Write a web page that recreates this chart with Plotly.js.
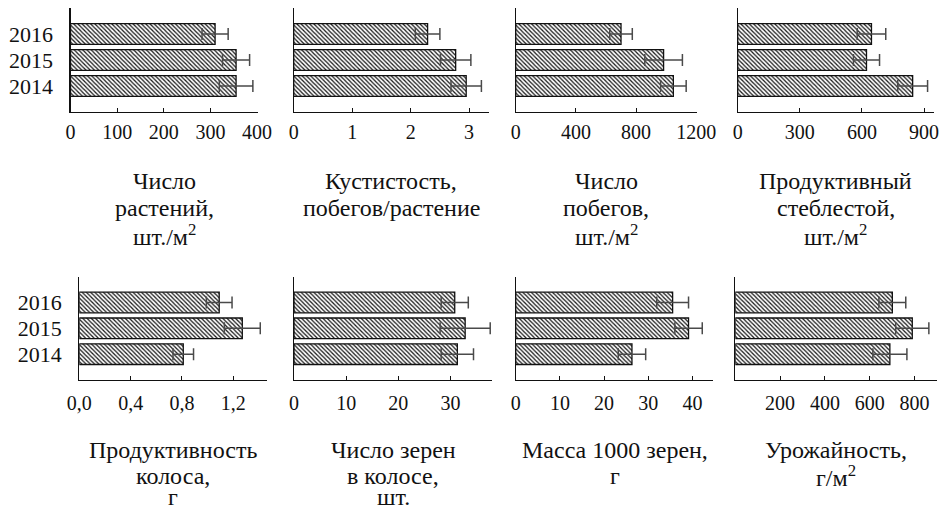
<!DOCTYPE html>
<html><head><meta charset="utf-8">
<script src="https://cdn.plot.ly/plotly-3.0.1.min.js"></script>
<style>html,body{margin:0;padding:0;background:#fff}#chart{width:943px;height:510px}</style>
</head><body><div id="chart"></div>
<script>
// ---- data ----
const years = ["2014", "2015", "2016"];
const plantsCount = [355, 355, 310];
const plantsCountErr = [36, 29, 28];
const tillering = [2.95, 2.77, 2.29];
const tilleringErr = [0.26, 0.26, 0.21];
const shoots = [1048, 983, 700];
const shootsErr = [85, 125, 75];
const productiveStems = [845, 622, 646];
const productiveStemsErr = [72, 63, 69];
const earProductivity = [0.81, 1.27, 1.09];
const earProductivityErr = [0.08, 0.14, 0.10];
const grainsPerEar = [31.3, 32.8, 30.8];
const grainsPerEarErr = [3.1, 4.8, 2.6];
const thousandGrainMass = [26.3, 39.1, 35.5];
const thousandGrainMassErr = [3.1, 3.1, 3.6];
const yieldValues = [690, 790, 701];
const yieldErr = [76, 74, 60];

const tickVals = [
  [0, 100, 200, 300, 400], [0, 1, 2, 3], [0, 400, 800, 1200], [0, 300, 600, 900],
  [0, 0.4, 0.8, 1.2], [0, 10, 20, 30], [0, 10, 20, 30, 40], [200, 400, 600, 800]
];
const tickTexts = [
  ["0", "100", "200", "300", "400"], ["0", "1", "2", "3"], ["0", "400", "800", "1200"], ["0", "300", "600", "900"],
  ["0,0", "0,4", "0,8", "1,2"], ["0", "10", "20", "30"], ["0", "10", "20", "30", "40"], ["200", "400", "600", "800"]
];
const titleLines = [
  ["Число", "растений,", "шт./м<sup>2</sup>"],
  ["Кустистость,", "побегов/растение"],
  ["Число", "побегов,", "шт./м<sup>2</sup>"],
  ["Продуктивный", "стеблестой,", "шт./м<sup>2</sup>"],
  ["Продуктивность", "колоса,", "г"],
  ["Число зерен", "в колосе,", "шт."],
  ["Масса 1000 зерен,", "г"],
  ["Урожайность,", "г/м<sup>2</sup>"]
];

const seriesVals = [plantsCount, tillering, shoots, productiveStems, earProductivity, grainsPerEar, thousandGrainMass, yieldValues];
const seriesErrs = [plantsCountErr, tilleringErr, shootsErr, productiveStemsErr, earProductivityErr, grainsPerEarErr, thousandGrainMassErr, yieldErr];

// ---- layout geometry (pixels) ----
const W = 943, H = 510;
const xDom = [[70.5, 258], [293.7, 489], [515.7, 697], [737.7, 934], [79.3, 266.7], [294, 492.3], [515.7, 713.3], [735.3, 936.7]];
const xRange = [[0, 402], [0, 3.34], [0, 1205], [0, 948], [0, 1.46], [0, 38], [0, 44.7], [0, 899]];
const yDomPx = [[8, 112], [276.7, 380]];
const titleY = [[181, 208, 235], [450, 476, 497]];
const FONT = "Liberation Serif";
const INK = "#111";

const data = [];
const layout = {
  width: W, height: H, margin: {l: 0, r: 0, t: 0, b: 0},
  paper_bgcolor: "#fff", plot_bgcolor: "#fff", showlegend: false,
  font: {family: FONT, color: INK},
  annotations: []
};

for (let i = 0; i < 8; i++) {
  const row = i < 4 ? 0 : 1;
  const sfx = i === 0 ? "" : String(i + 1);
  data.push({
    type: "bar", orientation: "h",
    x: seriesVals[i], y: years,
    xaxis: "x" + sfx, yaxis: "y" + sfx,
    width: 0.8,
    marker: {
      color: "#fff",
      line: {color: INK, width: 1.3},
      pattern: {shape: "\\", fgcolor: "#1a1a1a", bgcolor: "#fff", size: 3, solidity: 0.42}
    },
    error_x: {type: "data", array: seriesErrs[i], visible: true, color: "#4a4a4a", thickness: 1.5, width: 6},
    hoverinfo: "skip"
  });
  layout["xaxis" + sfx] = {
    domain: [xDom[i][0] / W, xDom[i][1] / W],
    range: xRange[i], anchor: "y" + sfx,
    showgrid: false, zeroline: false,
    showline: true, linecolor: INK, linewidth: 1.2,
    ticks: "inside", ticklen: 4, tickcolor: INK, tickwidth: 1,
    tickmode: "array", tickvals: tickVals[i], ticktext: tickTexts[i],
    tickfont: {family: FONT, size: 20, color: INK},
    ticklabelstandoff: row === 0 ? 2 : 5,
    fixedrange: true
  };
  const yd = yDomPx[row];
  layout["yaxis" + sfx] = {
    domain: [1 - yd[1] / H, 1 - yd[0] / H],
    type: "category", categoryorder: "array", categoryarray: years,
    tickmode: "array", tickvals: years, ticktext: years,
    range: [-1, 3], anchor: "x" + sfx,
    showgrid: false, zeroline: false,
    showline: true, linecolor: INK, linewidth: 1.2,
    ticks: "", showticklabels: (i === 0 || i === 4),
    tickfont: {family: FONT, size: 22, color: INK},
    ticklabelstandoff: 12,
    fixedrange: true
  };
  const cx = (xDom[i][0] + xDom[i][1]) / 2 / W;
  titleLines[i].forEach((txt, k) => {
    layout.annotations.push({
      text: txt, xref: "paper", yref: "paper",
      x: cx, y: 1 - titleY[row][k] / H,
      xanchor: "center", yanchor: "middle", showarrow: false,
      font: {family: FONT, size: 24, color: INK}
    });
  });
}

Plotly.newPlot("chart", data, layout, {displayModeBar: false, staticPlot: true});
</script>
</body></html>
